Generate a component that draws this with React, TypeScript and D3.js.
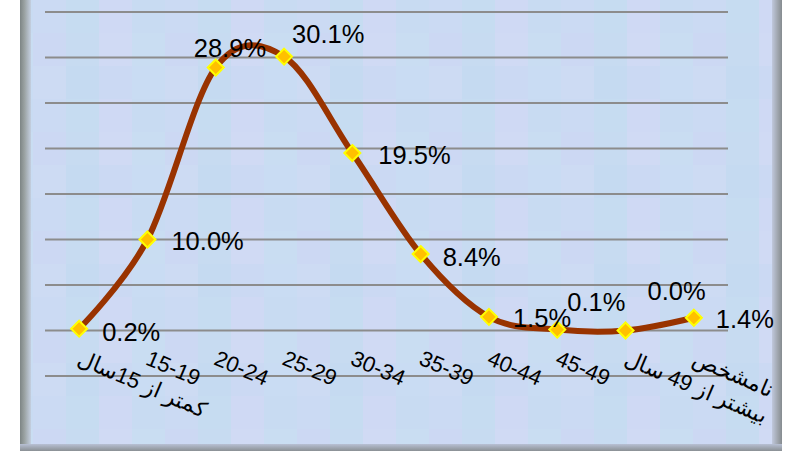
import { useMemo } from "react";
import * as d3 from "d3";

const categories = [
  "کمتر از 15سال",
  "15-19",
  "20-24",
  "25-29",
  "30-34",
  "35-39",
  "40-44",
  "45-49",
  "بیشتر از 49 سال",
  "نامشخص",
];
const percents = [0.2, 10.0, 28.9, 30.1, 19.5, 8.4, 1.5, 0.1, 0.0, 1.4];
const yTicks = [-5, 0, 5, 10, 15, 20, 25, 30, 35];

// hand-tuned label nudges (px), like the manual placement in the original sheet
const labelNudge: [number, number][] = [
  [23, 3], [24, 1], [-22, -20], [8, -23], [26, 2],
  [22, 3], [24, 1], [10, -28], [22, -40], [22, 1],
];

const W = 800;
const H = 451;
const FONT = "'Liberation Sans', Arial, sans-serif";

// background tile tints
const tileColors = [
  "#c8dbf2", "#cbdaf3", "#c6dcf1", "#cfd9f4",
  "#c9ddf2", "#ccd8f3", "#c7dbf1", "#d0daf4",
  "#c9dcf3", "#cddbf3", "#c5daf1", "#cbd9f3",
];

export default function App() {
  const x = useMemo(() => d3.scaleBand<string>().domain(categories).range([45, 728]), []);
  const y = useMemo(() => d3.scaleLinear().domain([-5, 35]).range([376, 12]), []);

  const pts = percents.map((v, i) => ({
    cx: (x(categories[i]) ?? 0) + x.bandwidth() / 2,
    cy: y(v),
    v,
  }));

  const line = d3
    .line<{ cx: number; cy: number }>()
    .x((d) => d.cx)
    .y((d) => d.cy)
    .curve(d3.curveCardinal.tension(0));

  return (
    <svg
      width={W}
      height={H}
      style={{ position: "fixed", left: 0, top: 0, display: "block" }}
      fontFamily={FONT}
    >
      <defs>
        <pattern id="tex" width={132} height={99} patternUnits="userSpaceOnUse">
          {tileColors.map((c, i) => (
            <rect key={i} x={(i % 4) * 33} y={Math.floor(i / 4) * 33} width={33} height={33} fill={c} />
          ))}
        </pattern>
        <linearGradient id="leftEdge" x1="0" x2="1" y1="0" y2="0">
          <stop offset="0" stopColor="#7d8585" />
          <stop offset="0.4" stopColor="#9aa2a2" />
          <stop offset="1" stopColor="#c4cfe0" />
        </linearGradient>
        <linearGradient id="rightEdge" x1="0" x2="1" y1="0" y2="0">
          <stop offset="0" stopColor="#c0c8dc" />
          <stop offset="0.6" stopColor="#9ea4ac" />
          <stop offset="1" stopColor="#868c90" />
        </linearGradient>
        <linearGradient id="bottomEdge" x1="0" x2="0" y1="0" y2="1">
          <stop offset="0" stopColor="#b8c0d4" />
          <stop offset="1" stopColor="#8a9094" />
        </linearGradient>
      </defs>

      <rect x={0} y={0} width={W} height={H} fill="#ffffff" />
      <rect x={20} y={0} width={762} height={451} fill="url(#tex)" />
      <rect x={20} y={0} width={11} height={451} fill="url(#leftEdge)" />
      <rect x={772} y={0} width={10} height={451} fill="url(#rightEdge)" />
      <rect x={20} y={444} width={762} height={7} fill="url(#bottomEdge)" />

      {/* gridlines */}
      {yTicks.map((t) => (
        <line key={t} x1={45} x2={728} y1={y(t)} y2={y(t)} stroke="#8c8c8c" strokeWidth={2} />
      ))}

      {/* category labels */}
      {categories.map((c, i) => {
        const cx = pts[i].cx;
        return (
          <text
            key={c}
            transform={`translate(${cx - 3},364) rotate(23)`}
            fontSize={22}
            fill="#000"
            textAnchor="start"
          >
            {c}
          </text>
        );
      })}

      {/* series line */}
      <path d={line(pts) ?? ""} fill="none" stroke="#993300" strokeWidth={6} strokeLinecap="round" />

      {/* markers */}
      {pts.map((p, i) => (
        <path
          key={i}
          d={`M${p.cx},${p.cy - 8}L${p.cx + 8},${p.cy}L${p.cx},${p.cy + 8}L${p.cx - 8},${p.cy}Z`}
          fill="#ffc000"
          stroke="#ffff00"
          strokeWidth={2}
        />
      ))}

      {/* data labels */}
      {pts.map((p, i) => (
        <text
          key={`l${i}`}
          x={p.cx + labelNudge[i][0]}
          y={p.cy + labelNudge[i][1]}
          dy="0.36em"
          fontSize={25.5}
          fill="#000"
        >
          {p.v.toFixed(1)}%
        </text>
      ))}
    </svg>
  );
}
